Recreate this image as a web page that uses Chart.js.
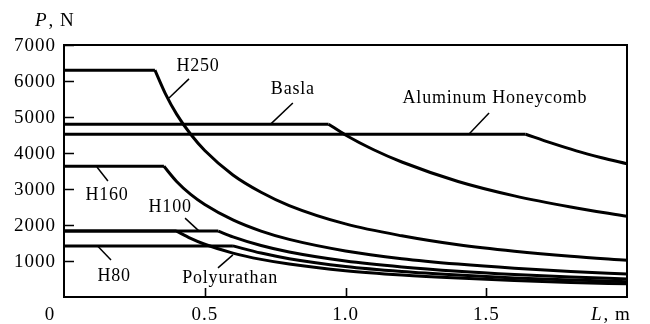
<!DOCTYPE html>
<html>
<head>
<meta charset="utf-8">
<script src="https://cdn.jsdelivr.net/npm/chart.js@4/dist/chart.umd.min.js"></script>
<style>
  html, body { margin: 0; padding: 0; background: #fff; }
  #wrap { width: 650px; height: 324px; }
</style>
</head>
<body>
<div id="wrap"><canvas id="chart" width="650" height="324"></canvas></div>
<script>
// Axis ticks
const xTicks = [0.5, 1.0, 1.5];
const yTicks = [1000, 2000, 3000, 4000, 5000, 6000, 7000];

// Curves: L (m) vs P (N)
const h250L = [0, 0.323, 0.36, 0.40, 0.45, 0.50, 0.60, 0.70, 0.80, 1.00, 1.20, 1.40, 1.60, 1.80, 2.00];
const h250P = [6300, 6300, 5650, 5080, 4520, 4070, 3390, 2910, 2540, 2030, 1700, 1450, 1270, 1130, 1020];

const baslaL = [0, 0.94, 1.00, 1.10, 1.20, 1.40, 1.60, 1.80, 2.00];
const baslaP = [4800, 4800, 4500, 4090, 3750, 3210, 2810, 2500, 2240];

const aluL = [0, 1.64, 1.73, 1.82, 1.91, 2.00];
const aluP = [4520, 4520, 4280, 4060, 3870, 3700];

const h160L = [0, 0.355, 0.40, 0.45, 0.50, 0.60, 0.70, 0.80, 1.00, 1.20, 1.40, 1.60, 1.80, 2.00];
const h160P = [3630, 3630, 3210, 2850, 2570, 2140, 1830, 1600, 1280, 1065, 915, 800, 710, 640];

const h100L = [0, 0.548, 0.60, 0.70, 0.80, 1.00, 1.20, 1.40, 1.60, 1.80, 2.00];
const h100P = [1830, 1830, 1670, 1430, 1250, 1000, 835, 715, 625, 555, 500];

const h80L = [0, 0.60, 0.70, 0.80, 1.00, 1.20, 1.40, 1.60, 1.80, 2.00];
const h80P = [1420, 1420, 1220, 1065, 850, 710, 610, 530, 475, 425];

const polyL = [0, 0.40, 0.45, 0.50, 0.60, 0.70, 0.80, 1.00, 1.20, 1.40, 1.60, 1.80, 2.00];
const polyP = [1830, 1830, 1630, 1465, 1220, 1045, 915, 730, 610, 525, 460, 405, 365];

// Curve labels with leader lines (data coordinates)
const notes = [
  { text: 'H250', at: [0.476, 6420], from: [0.444, 6060], to: [0.373, 5530] },
  { text: 'Basla', at: [0.813, 5780], from: [0.813, 5390], to: [0.735, 4810] },
  { text: 'Aluminum Honeycomb', at: [1.531, 5530], from: [1.510, 5110], to: [1.439, 4530] },
  { text: 'H160', at: [0.153, 2830], from: [0.156, 3220], to: [0.117, 3610] },
  { text: 'H100', at: [0.377, 2500], from: [0.430, 2190], to: [0.480, 1830] },
  { text: 'H80', at: [0.178, 580], from: [0.167, 1030], to: [0.121, 1400] },
  { text: 'Polyurathan', at: [0.590, 530], from: [0.547, 810], to: [0.600, 1170] }
];

const SERIF = '"Liberation Serif", "DejaVu Serif", serif';

// plateau as a straight piece, decay as a smooth piece
function curveSets(L, P) {
  const pts = L.map((x, i) => ({ x, y: P[i] }));
  const base = { borderColor: '#000', borderWidth: 3, pointRadius: 0, fill: false };
  return [
    Object.assign({}, base, { data: pts.slice(0, 2), tension: 0 }),
    Object.assign({}, base, { data: pts.slice(1), cubicInterpolationMode: 'monotone' })
  ];
}

const decor = {
  id: 'decor',
  afterDraw(chart) {
    const { ctx, chartArea: a, scales: { x, y } } = chart;
    ctx.save();
    // frame
    ctx.strokeStyle = '#000';
    ctx.lineWidth = 2;
    ctx.strokeRect(a.left, a.top, a.right - a.left, a.bottom - a.top);
    // inward ticks
    ctx.lineWidth = 1.6;
    ctx.beginPath();
    xTicks.forEach(v => {
      const px = Math.round(x.getPixelForValue(v)) + 0.5;
      ctx.moveTo(px, a.bottom); ctx.lineTo(px, a.bottom - 9);
    });
    yTicks.forEach(v => {
      const py = Math.round(y.getPixelForValue(v)) + 0.5;
      ctx.moveTo(a.left, py); ctx.lineTo(a.left + 10, py);
    });
    ctx.stroke();

    // tick labels
    ctx.fillStyle = '#000';
    ctx.font = '19px ' + SERIF;
    ctx.letterSpacing = '1px';
    ctx.textBaseline = 'middle';
    ctx.textAlign = 'right';
    yTicks.forEach(v => ctx.fillText(String(v), a.left - 8, y.getPixelForValue(v) + 1));
    ctx.textAlign = 'center';
    xTicks.forEach(v => ctx.fillText(v.toFixed(1), x.getPixelForValue(v), a.bottom + 18));
    ctx.fillText('0', x.getPixelForValue(0) - 14, a.bottom + 18);

    // axis titles
    ctx.textAlign = 'left';
    ctx.font = 'italic 19px ' + SERIF;
    ctx.fillText('P', 35, 21);
    let w = ctx.measureText('P').width;
    ctx.font = '19px ' + SERIF;
    ctx.fillText(', N', 35 + w + 1, 21);
    ctx.font = 'italic 19px ' + SERIF;
    ctx.fillText('L', 591, a.bottom + 18);
    w = ctx.measureText('L').width;
    ctx.font = '19px ' + SERIF;
    ctx.fillText(', m', 591 + w + 1, a.bottom + 18);

    // curve labels
    ctx.font = '18px ' + SERIF;
    ctx.letterSpacing = '0.8px';
    ctx.textAlign = 'center';
    ctx.lineWidth = 1.5;
    notes.forEach(n => {
      ctx.fillText(n.text, x.getPixelForValue(n.at[0]), y.getPixelForValue(n.at[1]));
      ctx.beginPath();
      ctx.moveTo(x.getPixelForValue(n.from[0]), y.getPixelForValue(n.from[1]));
      ctx.lineTo(x.getPixelForValue(n.to[0]), y.getPixelForValue(n.to[1]));
      ctx.stroke();
    });
    ctx.restore();
  }
};

new Chart(document.getElementById('chart').getContext('2d'), {
  type: 'line',
  data: {
    datasets: [
      ...curveSets(h250L, h250P),
      ...curveSets(baslaL, baslaP),
      ...curveSets(aluL, aluP),
      ...curveSets(h160L, h160P),
      ...curveSets(h100L, h100P),
      ...curveSets(h80L, h80P),
      ...curveSets(polyL, polyP)
    ]
  },
  options: {
    responsive: false,
    animation: false,
    events: [],
    layout: { padding: { left: 64, right: 23, top: 45, bottom: 27 } },
    plugins: { legend: { display: false }, tooltip: { enabled: false } },
    scales: {
      x: { type: 'linear', min: 0, max: 2, display: false },
      y: { min: 0, max: 7000, display: false }
    }
  },
  plugins: [decor]
});
</script>
</body>
</html>
